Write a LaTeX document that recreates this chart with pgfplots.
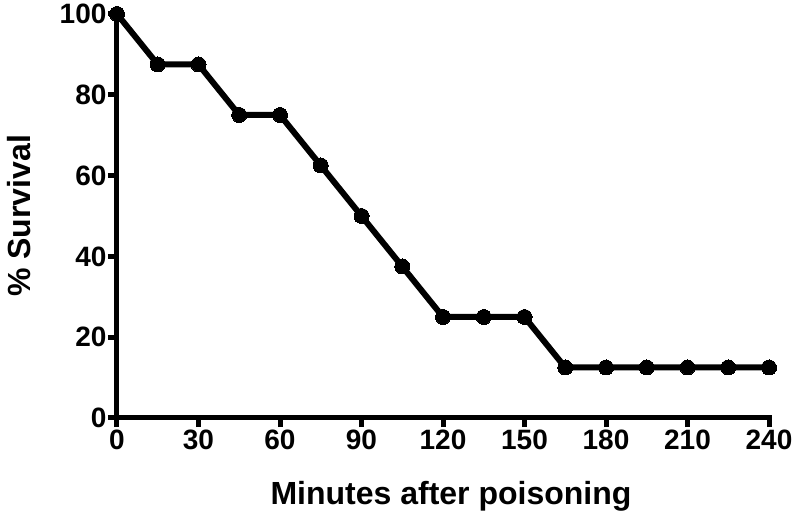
\documentclass[border=0pt]{standalone}
\usepackage{pgfplots}
\pgfplotsset{compat=1.18}
\usepackage{fontspec}
\setmainfont{Liberation Sans}
\begin{document}
\begin{tikzpicture}
\useasboundingbox (-117pt,-106pt) rectangle (683pt,418pt);
\begin{axis}[
  at={(0,0)}, anchor=south west,
  scale only axis, width=652pt, height=404pt,
  xmin=0, xmax=240, ymin=0, ymax=100,
  axis x line*=bottom, axis y line*=left,
  axis line style={line width=5pt, line cap=rect},
  xtick={0,30,...,240}, ytick={0,20,...,100},
  tick style={line width=5pt, black},
  major tick length=9pt,
  tick align=outside,
  xtick pos=bottom, ytick pos=left,
  /pgf/number format/assume math mode=true,
  ticklabel style={font=\fontsize{28}{32}\selectfont\bfseries},
  xticklabel style={yshift=1pt},
  yticklabel style={xshift=2pt},
  xlabel={Minutes after poisoning},
  ylabel={\% Survival},
  label style={font=\fontsize{32}{36}\selectfont\bfseries},
  xlabel style={yshift=-25pt, xshift=8pt},
  ylabel style={yshift=22pt},
  clip=false,
]
\addplot[black, line width=6pt, line join=round, mark=*, mark size=7.5pt, mark options={line width=0pt}] coordinates {
(0,100) (15,87.5) (30,87.5) (45,75) (60,75) (75,62.5) (90,50) (105,37.5)
(120,25) (135,25) (150,25) (165,12.5) (180,12.5) (195,12.5) (210,12.5) (225,12.5) (240,12.5)
};
\end{axis}
\end{tikzpicture}
\end{document}
